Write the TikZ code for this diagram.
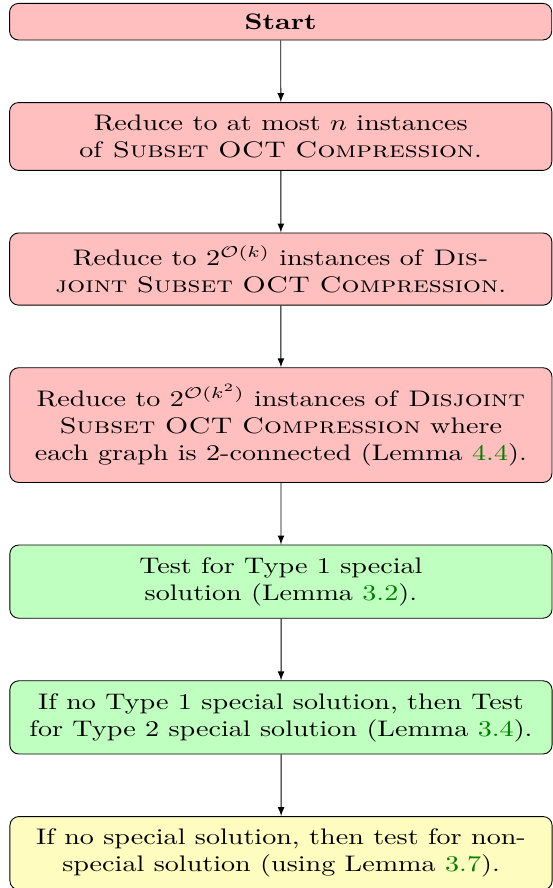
\documentclass[tikz,border=0pt]{standalone}
\usetikzlibrary{positioning}
\definecolor{lemmagreen}{rgb}{0,0.5,0}
\newcommand{\lemref}[1]{\textcolor{lemmagreen}{#1}}
\tikzset{
	stage/.style={rectangle, draw, rounded corners=4pt, text width=183pt, align=center, inner xsep=4.9pt, inner ysep=5.5pt},
	reduce/.style={stage, fill=red!25},
	special/.style={stage, fill=green!25},
	nonspecial/.style={stage, fill=yellow!25}
}

\begin{document}
\begin{tikzpicture}[xscale=1.25, every node/.append style={transform shape}, node distance=27.4pt, >=latex]
			\useasboundingbox (-3.2pt,1.3pt) rectangle (193.1pt,-393.4pt);
			\node[reduce, anchor=north west, inner ysep=4.6pt] at (0,0) (start) {\textbf{Start}};
			\node[reduce, below=of start] (subset) {Reduce to at most $n$ instances\\ of \textsc{Subset OCT Compression}.};
			\node[reduce, below=of subset] (disjoint) {Reduce to $2^{\mathcal{O}(k)}$ instances of \textsc{Dis-}\\ \textsc{joint Subset OCT Compression}.};
			\node[reduce, below=of disjoint, minimum height=51pt] (twoconn) {Reduce to $2^{\mathcal{O}(k^2)}$ instances of \textsc{Disjoint}\\ \textsc{Subset OCT Compression} where\\ each graph is 2-connected (Lemma \lemref{4.4}).};
			\node[special, below=of twoconn] (type1) {Test for Type 1 special\\ solution (Lemma \lemref{3.2}).};
			\node[special, below=of type1] (type2) {If no Type 1 special solution, then Test\\ for Type 2 special solution (Lemma \lemref{3.4}).};
			\node[nonspecial, below=of type2] (nonsp) {If no special solution, then test for non-\\ special solution (using Lemma \lemref{3.7}).};
			\draw[->] (start)--(subset);
			\draw[->] (subset)--(disjoint);
			\draw[->] (disjoint)--(twoconn);
			\draw[->] (twoconn)--(type1);
			\draw[->] (type1)--(type2);
			\draw[->] (type2)--(nonsp);
		\end{tikzpicture}
\end{document}
